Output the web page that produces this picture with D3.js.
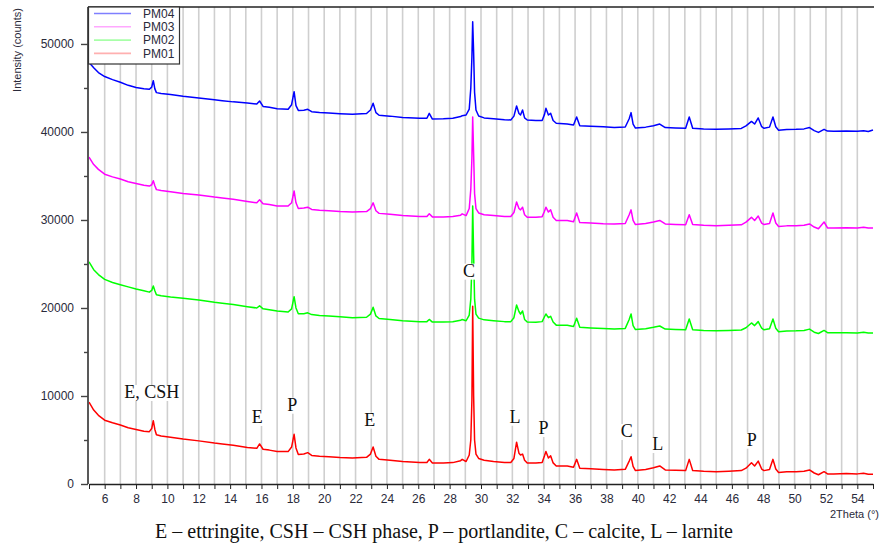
<!DOCTYPE html>
<html>
<head>
<meta charset="utf-8">
<script src="https://cdn.jsdelivr.net/npm/d3@7"></script>
<style>
  html, body { margin: 0; padding: 0; background: #fff; }
  svg { display: block; }
</style>
</head>
<body>
<svg id="chart" width="882" height="548"></svg>
<script>
// ---- data ----
const twoTheta = [5.0,5.3,5.6,6.0,6.5,7.0,7.5,8.0,8.5,8.85,9.0,9.1,9.2,9.3,9.6,10.2,11.0,12.0,13.0,13.5,
  14.2,15.1,15.7,15.88,16.1,16.5,17.0,17.7,17.92,18.08,18.2,18.35,18.7,18.95,19.2,19.7,20.3,21.0,21.8,22.7,
  22.95,23.12,23.3,23.5,24.2,25.0,26.1,26.55,26.7,26.9,27.6,28.2,28.7,28.8,29.05,29.25,29.35,29.42,29.47,29.53,
  29.59,29.68,29.85,30.2,30.8,31.5,31.9,32.1,32.27,32.42,32.52,32.65,32.78,32.95,33.5,33.9,34.05,34.14,34.3,34.44,
  34.6,34.8,35.5,35.9,36.1,36.3,37.0,37.8,38.5,39.2,39.45,39.57,39.7,39.85,40.5,41.0,41.4,41.75,42.4,43.05,
  43.28,43.5,44.2,45.0,45.8,46.6,46.9,47.25,47.45,47.68,47.9,48.05,48.4,48.62,48.8,48.98,49.5,50.1,50.6,50.95,
  51.25,51.52,51.88,52.1,52.5,53.3,54.0,54.4,54.7,55.0];

const pm01 = [9300,8400,7800,7250,6950,6700,6400,6200,6000,5950,6300,7200,6200,5600,5450,5300,5100,4900,4650,4550,
  4400,4150,4050,4550,3950,3850,3700,3680,4200,5650,4100,3350,3400,3560,3250,3150,3100,3000,2950,3030,
  3400,4200,3150,2800,2700,2550,2450,2450,2800,2380,2400,2430,2650,2800,2560,3300,5000,9500,20200,10000,
  5000,3400,2900,2700,2550,2450,2450,2900,4750,3500,3300,3400,2700,2380,2380,2450,3200,3700,2950,3200,
  2400,2050,2050,1900,2800,1800,1720,1660,1600,1670,2600,3100,2000,1530,1650,1850,2050,1600,1550,1520,
  2800,1530,1450,1400,1450,1520,1800,2420,2050,2600,1700,1520,1650,2800,1700,1300,1380,1400,1450,1600,
  1250,1050,1400,1150,1150,1180,1150,1230,1120,1100];

const pm02 = [25250,24350,23800,23250,22900,22650,22400,22150,21950,21800,22000,22500,21950,21500,21400,21250,21100,20900,20650,20550,
  20400,20150,20000,20250,19900,19800,19650,19550,19900,21280,20000,19350,19350,19450,19250,19150,19100,19000,18900,18950,
  19300,20080,19100,18800,18700,18550,18450,18450,18700,18400,18400,18430,18600,18700,18550,19200,21000,25000,31600,26000,
  21000,19300,18850,18650,18550,18450,18450,18900,20340,19600,19300,19660,18700,18400,18380,18450,19000,19320,18900,19060,
  18400,18050,18050,17900,18830,17800,17720,17660,17600,17680,18700,19320,18000,17550,17650,17800,17950,17600,17550,17520,
  18750,17530,17450,17400,17450,17500,17750,18300,18000,18450,17700,17520,17650,18750,17700,17300,17380,17400,17450,17600,
  17250,17100,17450,17200,17180,17200,17150,17230,17150,17150];

const pm03 = [37150,36300,35750,35200,34900,34650,34350,34150,33950,33850,34000,34450,33900,33450,33350,33200,33000,32850,32600,32500,
  32350,32100,31950,32300,31850,31750,31600,31580,31950,33300,31950,31300,31350,31450,31200,31100,31050,30950,30900,30950,
  31300,31950,31050,30750,30650,30500,30400,30400,30700,30350,30350,30400,30550,30700,30500,31300,33500,37000,41700,37500,
  33000,31300,30800,30600,30500,30400,30400,30850,32050,31300,31150,31450,30600,30300,30300,30380,31000,31450,30900,31150,
  30300,29950,29950,29800,30800,29700,29650,29580,29550,29600,30600,31150,29950,29480,29600,29780,29950,29550,29500,29470,
  30600,29480,29400,29350,29400,29450,29750,30300,29950,30450,29650,29480,29600,30800,29650,29250,29330,29350,29400,29550,
  29200,29000,29770,29100,29100,29130,29100,29180,29080,29090];

const pm04 = [47900,47300,46750,46300,45950,45650,45300,45050,44900,44850,45100,45830,44900,44470,44380,44250,44050,43850,43650,43550,
  43420,43300,43180,43520,42900,42800,42650,42580,43100,44580,43000,42450,42480,42580,42300,42200,42150,42080,42020,42100,
  42500,43260,42200,41900,41800,41650,41560,41560,42120,41460,41500,41560,41750,41850,41930,42600,45000,48500,52530,49000,
  44500,42500,41820,41600,41500,41400,41360,41800,42950,42100,41930,42500,41600,41360,41300,41300,42000,42690,41930,42120,
  41300,40990,40910,40800,41700,40700,40650,40580,40500,40560,41500,42200,40900,40450,40550,40700,40900,40500,40450,40420,
  41700,40430,40350,40300,40350,40400,40700,41200,40900,41590,40600,40420,40550,41700,40600,40200,40280,40300,40350,40500,
  40150,39950,40300,40100,40080,40100,40080,40150,40050,40230];

const seriesNames = ["PM04", "PM03", "PM02", "PM01"];           // legend order
const yMajorTicks = [0, 10000, 20000, 30000, 40000, 50000];
const yMinorTicks = [5000, 15000, 25000, 35000, 45000];
const xTicks = d3.range(5, 56, 1);
const xLabelTicks = d3.range(6, 55, 2);

const peakLabels = [
  {text: "E, CSH", t: 9.01, i: 9770},
  {text: "E", t: 15.73, i: 6930},
  {text: "P", t: 17.97, i: 8330},
  {text: "E", t: 22.91, i: 6625},
  {text: "C", t: 29.23, i: 23560},
  {text: "L", t: 32.17, i: 6965},
  {text: "P", t: 33.99, i: 5680},
  {text: "C", t: 39.29, i: 5340},
  {text: "L", t: 41.27, i: 3860},
  {text: "P", t: 47.27, i: 4350}
];
const caption = "E \u2013 ettringite, CSH \u2013 CSH phase, P \u2013 portlandite, C \u2013 calcite, L \u2013 larnite";

// ---- styles ----
const colors = {PM01: "#ff0000", PM02: "#00ff00", PM03: "#ff00ff", PM04: "#0000ff"};
const legendColors = {PM01: "#ffb0b0", PM02: "#a8ffa8", PM03: "#ffa8ff", PM04: "#7f7fff"};
const sans = "'Liberation Sans', Arial, sans-serif";
const serif = "'Liberation Serif', 'Times New Roman', serif";

const svg = d3.select("#chart");
const L = 89, R = 873, T = 7, B = 484;

const x = d3.scaleLinear().domain([5, 55]).range([L, R]);
const y = d3.scaleLinear().domain([0, 54200]).range([B, T]);

// vertical grid lines
svg.append("g").selectAll("line")
  .data(d3.range(6, 55, 1))
  .join("line")
  .attr("x1", d => x(d)).attr("x2", d => x(d))
  .attr("y1", T).attr("y2", B)
  .attr("stroke", "#cfcfcf").attr("stroke-width", 1.6);

// top border
svg.append("line").attr("x1", L - 1).attr("x2", R + 1).attr("y1", T).attr("y2", T)
  .attr("stroke", "#222").attr("stroke-width", 1.4);

// series
svg.append("defs").append("clipPath").attr("id", "clip")
  .append("rect").attr("x", L).attr("y", T).attr("width", R - L + 1).attr("height", B - T);

const data = {PM01: pm01, PM02: pm02, PM03: pm03, PM04: pm04};
const line = d3.line().x((d, k) => x(twoTheta[k])).y(d => y(d));
const gLines = svg.append("g").attr("clip-path", "url(#clip)");
["PM01", "PM02", "PM03", "PM04"].forEach(name => {
  gLines.append("path")
    .datum(data[name])
    .attr("d", line)
    .attr("fill", "none")
    .attr("stroke", colors[name])
    .attr("stroke-width", 1.5)
    .attr("stroke-linejoin", "round");
});

// x axis
const xAxis = d3.axisBottom(x)
  .tickValues(xTicks)
  .tickSize(5)
  .tickSizeOuter(0)
  .tickFormat(d => xLabelTicks.includes(d) ? d : "");
const gx = svg.append("g").attr("transform", `translate(0,${B})`).call(xAxis);
gx.select(".domain").attr("stroke", "#222").attr("stroke-width", 1.5);
gx.selectAll(".tick line").attr("stroke", "#222");
gx.selectAll(".tick text").attr("font-family", sans).attr("font-size", 12).attr("fill", "#2a2a3a").attr("dy", "0.95em");

// y axis major
const yAxis = d3.axisLeft(y).tickValues(yMajorTicks).tickSize(7).tickSizeOuter(0).tickFormat(d3.format("d"));
const gy = svg.append("g").attr("transform", `translate(${L - 1},0)`).call(yAxis);
gy.select(".domain").attr("stroke", "#222").attr("stroke-width", 1.5).attr("d", `M0,${B}V${T}`);
gy.selectAll(".tick line").attr("stroke", "#444").attr("stroke-width", 1.4);
gy.selectAll(".tick text").attr("font-family", sans).attr("font-size", 12).attr("fill", "#2a2a3a").attr("x", -14);
// y axis minor
const yMinor = d3.axisLeft(y).tickValues(yMinorTicks).tickSize(4).tickSizeOuter(0).tickFormat("");
const gym = svg.append("g").attr("transform", `translate(${L - 1},0)`).call(yMinor);
gym.select(".domain").remove();
gym.selectAll(".tick line").attr("stroke", "#444").attr("stroke-width", 1.4);

// axis titles
svg.append("text")
  .attr("transform", "translate(21,50) rotate(-90)")
  .attr("text-anchor", "middle")
  .attr("font-family", sans).attr("font-size", 11).attr("fill", "#2a2a3a")
  .text("Intensity (counts)");
svg.append("text")
  .attr("x", 879).attr("y", 518)
  .attr("text-anchor", "end")
  .attr("font-family", sans).attr("font-size", 11).attr("fill", "#2a2a3a")
  .text("2Theta (\u00b0)");

// peak labels on white boxes (as in the original image)
const gLab = svg.append("g");
const labs = gLab.selectAll("g.lab")
  .data(peakLabels)
  .join("g").attr("class", "lab");
const labTexts = labs.append("text")
  .attr("x", d => x(d.t)).attr("y", d => y(d.i))
  .attr("text-anchor", "middle")
  .attr("font-family", serif).attr("font-size", 18).attr("fill", "#111")
  .text(d => d.text);
labTexts.each(function() {
  const bb = this.getBBox();
  d3.select(this.parentNode).insert("rect", "text")
    .attr("x", bb.x - 1).attr("y", bb.y + 3)
    .attr("width", bb.width + 2).attr("height", bb.height - 4)
    .attr("fill", "#fff");
});

// caption
svg.append("text")
  .attr("x", 444).attr("y", 538)
  .attr("text-anchor", "middle")
  .attr("font-family", serif).attr("font-size", 20).attr("fill", "#111")
  .text(caption);

// legend
const lg = svg.append("g");
lg.append("rect").attr("x", L - 0.5).attr("y", T).attr("width", 91).attr("height", 57)
  .attr("fill", "#fff").attr("stroke", "#333").attr("stroke-width", 1.2);
seriesNames.forEach((name, k) => {
  const yy = 13.5 + k * 13.3;
  lg.append("line").attr("x1", 94).attr("x2", 131).attr("y1", yy).attr("y2", yy)
    .attr("stroke", legendColors[name]).attr("stroke-width", 1.6);
  lg.append("text").attr("x", 143).attr("y", yy).attr("dy", "0.36em")
    .attr("font-family", sans).attr("font-size", 12).attr("fill", "#2a2a3a")
    .text(name);
});
</script>
</body>
</html>
